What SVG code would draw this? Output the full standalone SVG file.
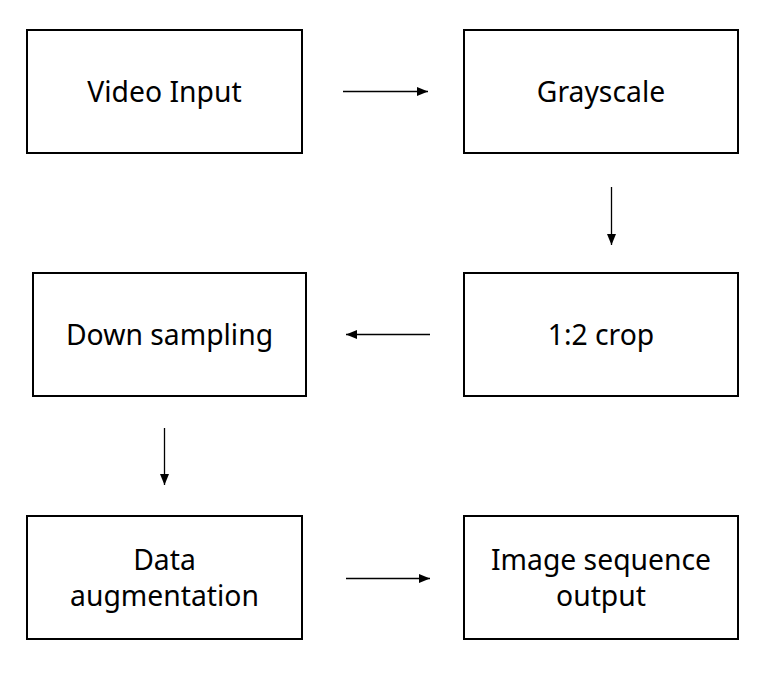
<svg xmlns="http://www.w3.org/2000/svg" width="771" height="673" viewBox="0 0 771 673">
<style>
.box{fill:#fff;stroke:#000;stroke-width:2}
.lbl{font-family:"Noto Sans","Open Sans","Liberation Sans",sans-serif;font-size:28.3px;fill:#000;text-anchor:middle}
.con{stroke:#000;stroke-width:1.3;fill:none}
</style>
<defs>
<marker id="ah" viewBox="0 0 11 9" refX="11" refY="4.5" markerWidth="11" markerHeight="9" markerUnits="userSpaceOnUse" orient="auto">
<path d="M0,0L11,4.5L0,9Z" fill="#000"/>
</marker>
</defs>
<rect width="771" height="673" fill="#fff"/>
<g id="n1"><rect class="box" x="27" y="30" width="275" height="123"/><text class="lbl" x="164.5" y="102">Video Input</text></g>
<g id="n2"><rect class="box" x="464" y="30" width="274" height="123"/><text class="lbl" x="601" y="102">Grayscale</text></g>
<g id="n3"><rect class="box" x="33" y="273" width="273" height="123"/><text class="lbl" x="169.5" y="345">Down sampling</text></g>
<g id="n4"><rect class="box" x="464" y="273" width="274" height="123"/><text class="lbl" x="601" y="345">1:2 crop</text></g>
<g id="n5"><rect class="box" x="27" y="516" width="275" height="123"/><text class="lbl" x="164.5" y="570">Data</text><text class="lbl" x="164.5" y="606">augmentation</text></g>
<g id="n6"><rect class="box" x="464" y="516" width="274" height="123"/><text class="lbl" x="601" y="570">Image sequence</text><text class="lbl" x="601" y="606">output</text></g>
<g id="connectors">
<line class="con" x1="343" y1="91.5" x2="428" y2="91.5" marker-end="url(#ah)"/>
<line class="con" x1="611.5" y1="187" x2="611.5" y2="245" marker-end="url(#ah)"/>
<line class="con" x1="430" y1="334.5" x2="346" y2="334.5" marker-end="url(#ah)"/>
<line class="con" x1="164.5" y1="428" x2="164.5" y2="485" marker-end="url(#ah)"/>
<line class="con" x1="346" y1="578.5" x2="430" y2="578.5" marker-end="url(#ah)"/>
</g>
</svg>
